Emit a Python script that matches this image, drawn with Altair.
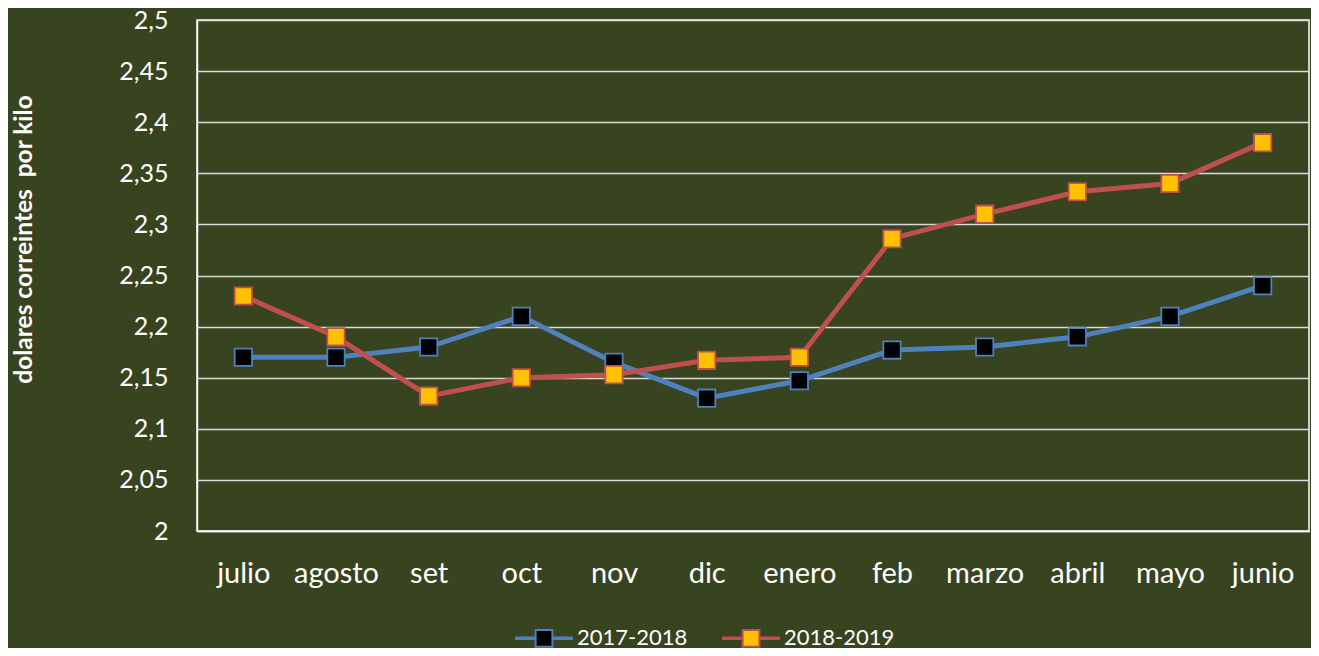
import altair as alt
import pandas as pd

months = ["julio", "agosto", "set", "oct", "nov", "dic", "enero", "feb", "marzo", "abril", "mayo", "junio"]
s2017 = [2.17, 2.17, 2.18, 2.21, 2.165, 2.13, 2.147, 2.177, 2.18, 2.19, 2.21, 2.24]
s2018 = [2.23, 2.19, 2.132, 2.15, 2.153, 2.167, 2.17, 2.286, 2.31, 2.332, 2.34, 2.38]
series = ["2017-2018", "2018-2019"]
line_colors = ["#4F81BD", "#C0504D"]
fill_colors = ["#000000", "#FFC000"]
y_ticks = [2, 2.05, 2.1, 2.15, 2.2, 2.25, 2.3, 2.35, 2.4, 2.45, 2.5]

BG = "#38431F"
FONT = "Lato"

df = pd.DataFrame({
    "mes": months * 2,
    "valor": s2017 + s2018,
    "serie": [series[0]] * len(months) + [series[1]] * len(months),
})

x_enc = alt.X(
    "mes:N", sort=months, title=None,
    axis=alt.Axis(labelAngle=0, labelFontSize=29, labelColor="white", labelFont=FONT,
                  labelPadding=28, ticks=False, tickSize=0, domainColor="white",
                  domainWidth=1.5, grid=False),
)
y_enc = alt.Y(
    "valor:Q", scale=alt.Scale(domain=[2, 2.5], nice=False, zero=False),
    title="dolares correintes\u00a0 por kilo",
    axis=alt.Axis(values=y_ticks, labelExpr="replace(format(datum.value, '.2~f'), '.', ',')",
                  labelFontSize=25, labelColor="white", labelFont=FONT, labelPadding=29,
                  ticks=False, tickSize=0, domainColor="white", domainWidth=1.5,
                  grid=True, gridColor="#D9D9D9", gridWidth=1.5,
                  titleFont=FONT, titleFontSize=24.5, titleFontWeight="bold", titleColor="white",
                  titleAngle=-90, titleX=-173, titleY=219, titleAlign="center",
                  titleBaseline="middle"),
)

legend_path = ("M-1,-0.025H-0.3V0.025H-1Z M0.3,-0.025H1V0.025H0.3Z "
               "M-0.3,-0.3H0.3V0.3H-0.3Z")
legend = alt.Legend(title=None, orient="none", legendX=318, legendY=589, direction="horizontal",
                    symbolType=legend_path, symbolSize=3136, symbolStrokeWidth=2,
                    labelFontSize=22, labelColor="white", labelFont=FONT, labelOffset=4,
                    columnPadding=31)

layers = []
for i, s in enumerate(series):
    base = alt.Chart(df).transform_filter(alt.datum.serie == s)
    line = base.mark_line(strokeWidth=5, color=line_colors[i]).encode(x=x_enc, y=y_enc)
    pts = base.mark_point(shape="square", filled=True, size=300, strokeWidth=1.8, opacity=1).encode(
        x=x_enc, y=y_enc,
        fill=alt.Fill("serie:N", scale=alt.Scale(domain=series, range=fill_colors), legend=legend),
        stroke=alt.Stroke("serie:N", scale=alt.Scale(domain=series, range=line_colors), legend=legend),
    )
    layers += [line, pts]

chart = alt.layer(*layers).properties(
    width=1112, height=511,
    autosize=alt.AutoSizeParams(type="none"),
    padding={"left": 189, "top": 12, "right": 2, "bottom": 117},
    background=BG,
).configure_view(stroke="white", strokeWidth=1.5, fill=BG)

chart.save("out.html", embed_options={"renderer": "svg", "actions": False})
